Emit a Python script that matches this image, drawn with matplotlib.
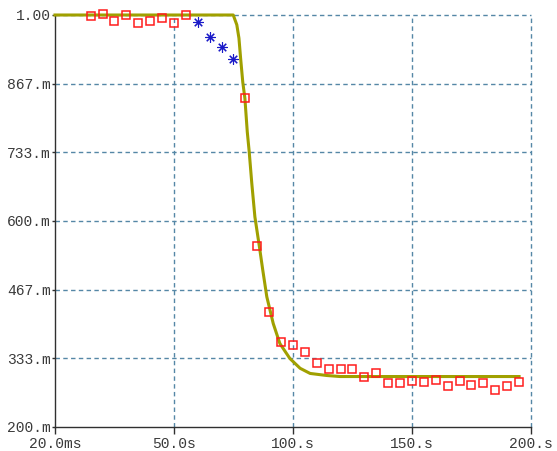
import matplotlib
matplotlib.use("Agg")
import matplotlib.pyplot as plt

# fitted curve
curve_x = [0.02, 74.9, 76.4, 77.3, 78.0, 78.9, 79.8, 80.8, 81.6, 82.7, 84.0, 85.9, 87.3,
           89.0, 91.7, 94.5, 98.7, 103.0, 107.2, 114.2, 119.8, 195.0]
curve_y = [1.0, 1.0, 0.981, 0.955, 0.916, 0.870, 0.838, 0.773, 0.735, 0.673, 0.608, 0.550, 0.505,
           0.453, 0.401, 0.362, 0.333, 0.314, 0.304, 0.300, 0.298, 0.298]

# measured points (red squares)
meas_x = [15, 20, 25, 30, 35, 40, 45, 50, 55,
          80, 85, 90, 95, 100, 105, 110, 115, 120, 125, 130, 135,
          140, 145, 150, 155, 160, 165, 170, 175, 180, 185, 190, 195]
meas_y = [0.999, 1.002, 0.989, 1.0, 0.984, 0.989, 0.994, 0.984, 1.0,
          0.838, 0.552, 0.423, 0.366, 0.359, 0.346, 0.324, 0.312, 0.312, 0.312, 0.298, 0.305,
          0.286, 0.286, 0.289, 0.287, 0.292, 0.280, 0.289, 0.282, 0.285, 0.272, 0.280, 0.287]

# excluded points (blue stars)
excl_x = [60, 65, 70, 75]
excl_y = [0.986, 0.958, 0.937, 0.914]

x_ticks = [0.02, 50, 100, 150, 200]
x_labels = ["20.0ms", "50.0s", "100.s", "150.s", "200.s"]
y_ticks = [0.2, 1 / 3, 0.2 + 2 * 0.8 / 6, 0.6, 0.2 + 4 * 0.8 / 6, 0.2 + 5 * 0.8 / 6, 1.0]
y_labels = ["200.m", "333.m", "467.m", "600.m", "733.m", "867.m", "1.00"]

grid_color = "#5587a6"
text_color = "#3a3a3a"

fig = plt.figure(figsize=(5.57, 4.51), dpi=100)
fig.set_facecolor("white")
ax = fig.add_axes([55 / 557, 1 - 427 / 451, 476 / 557, 412 / 451])

ax.set_xlim(0.02, 200)
ax.set_ylim(0.2, 1.0)

# grid lines (dashed)
for x in x_ticks[1:]:
    ax.plot([x, x], [0.2, 1.0], color=grid_color, linewidth=1.0, dashes=(3.2, 2.4), zorder=1, clip_on=False)
for y in y_ticks[1:]:
    ax.plot([0.02, 200], [y, y], color=grid_color, linewidth=1.0, dashes=(3.2, 2.4), zorder=1, clip_on=False)

ax.plot(curve_x, curve_y, color="#a0a000", linewidth=2.2, zorder=3, clip_on=False,
        solid_joinstyle="round")

ax.plot(meas_x, meas_y, linestyle="none", marker="s", markersize=6.3, markerfacecolor="none",
        markeredgecolor="#ff1c1c", markeredgewidth=1.1, zorder=4, clip_on=False)

ax.plot(excl_x, excl_y, linestyle="none", marker=(8, 2, 0), markersize=7.5,
        markeredgecolor="#1a1ac8", markeredgewidth=0.8, zorder=4, clip_on=False)

for side in ["top", "right"]:
    ax.spines[side].set_visible(False)
for side in ["left", "bottom"]:
    ax.spines[side].set_color("#303030")
    ax.spines[side].set_linewidth(1.0)

ax.set_xticks(x_ticks)
ax.set_xticklabels(x_labels)
ax.set_yticks(y_ticks)
ax.set_yticklabels(y_labels)
ax.tick_params(axis="x", direction="out", length=5, width=1, color="#303030", pad=2,
               labelsize=10.5, labelcolor=text_color)
ax.tick_params(axis="y", direction="out", length=2, width=1, color="#303030", pad=1,
               labelsize=10.5, labelcolor=text_color)
for lbl in ax.get_xticklabels() + ax.get_yticklabels():
    lbl.set_family("Liberation Mono")

plt.savefig("out.png", dpi=100)
plt.close()
